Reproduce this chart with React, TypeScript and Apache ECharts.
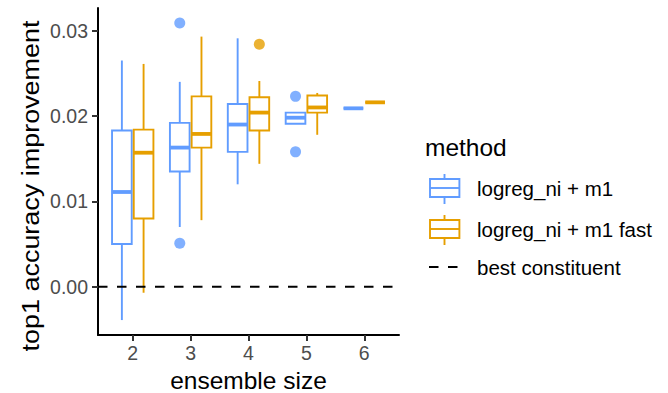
import React, { useEffect, useRef } from "react";
import * as echarts from "echarts";

// ---------- data ----------
const sizes = [2, 3, 4, 5, 6];
const sizeLabels = ["2", "3", "4", "5", "6"];
const methods = ["logreg_ni + m1", "logreg_ni + m1 fast"];
const baselineLabel = "best constituent";
const colors = ["#619CFF", "#E69F00"];

// [lower whisker, Q1, median, Q3, upper whisker] per ensemble size
const m1Stats = [
  [-0.0039, 0.005, 0.0111, 0.0183, 0.0265],
  [0.007, 0.0135, 0.0163, 0.0192, 0.024],
  [0.012, 0.0158, 0.019, 0.0214, 0.0291],
  [0.0191, 0.0191, 0.0198, 0.0204, 0.0204],
  [0.0209, 0.0209, 0.0209, 0.0209, 0.0209],
];
const m1FastStats = [
  [-0.0007, 0.008, 0.0157, 0.0184, 0.0261],
  [0.0078, 0.0163, 0.0179, 0.0223, 0.0293],
  [0.0144, 0.0183, 0.0204, 0.0222, 0.0241],
  [0.0178, 0.0204, 0.021, 0.0224, 0.0227],
  [0.0216, 0.0216, 0.0216, 0.0216, 0.0216],
];
// [ensemble size, value]
const m1Outliers = [
  [3, 0.0309],
  [3, 0.0051],
  [5, 0.0223],
  [5, 0.0158],
];
const m1FastOutliers = [[4, 0.0284]];
const baselineValue = 0;

const yTicks = [0, 0.01, 0.02, 0.03];
const yTickLabels = ["0.00", "0.01", "0.02", "0.03"];

// ---------- layout constants ----------
const FONT = "'Liberation Sans', Arial, Helvetica, sans-serif";
const X_MIN = 1.4;
const X_MAX = 6.6;
const Y_MIN = -0.00565;
const Y_MAX = 0.03265;
const DODGE = 0.1875;
const BOX_W = 0.34;
const LW = 1.9;

function boxSeries(stats: number[][], offset: number, color: string, name: string) {
  return {
    type: "custom",
    name,
    data: sizes.map((s, i) => [s + offset, ...stats[i]]),
    encode: { x: 0, y: [1, 2, 3, 4, 5] },
    z: 2,
    renderItem: (_params: any, api: any) => {
      const x = api.value(0);
      const low = api.coord([x, api.value(1)]);
      const q1 = api.coord([x, api.value(2)]);
      const med = api.coord([x, api.value(3)]);
      const q3 = api.coord([x, api.value(4)]);
      const high = api.coord([x, api.value(5)]);
      const halfW = api.size([BOX_W, 0])[0] / 2;
      const cx = low[0];
      const ls = { stroke: color, lineWidth: LW, fill: "none" };
      return {
        type: "group",
        children: [
          { type: "line", shape: { x1: cx, y1: high[1], x2: cx, y2: q3[1] }, style: ls },
          { type: "line", shape: { x1: cx, y1: q1[1], x2: cx, y2: low[1] }, style: ls },
          {
            type: "rect",
            shape: { x: cx - halfW, y: q3[1], width: 2 * halfW, height: q1[1] - q3[1] },
            style: { fill: "#ffffff", stroke: color, lineWidth: LW },
          },
          {
            type: "line",
            shape: { x1: cx - halfW, y1: med[1], x2: cx + halfW, y2: med[1] },
            style: { stroke: color, lineWidth: LW * 2 },
          },
        ],
      };
    },
  };
}

function legendKey(cy: number, color: string) {
  return [
    { type: "line", shape: { x1: 444.5, y1: cy - 14, x2: 444.5, y2: cy - 9 }, style: { stroke: color, lineWidth: LW } },
    { type: "line", shape: { x1: 444.5, y1: cy + 9, x2: 444.5, y2: cy + 16 }, style: { stroke: color, lineWidth: LW } },
    {
      type: "rect",
      shape: { x: 430, y: cy - 9, width: 29.4, height: 18 },
      style: { fill: "#ffffff", stroke: color, lineWidth: LW },
    },
    { type: "line", shape: { x1: 430, y1: cy, x2: 459.4, y2: cy }, style: { stroke: color, lineWidth: LW } },
  ];
}

export default function App() {
  const ref = useRef<HTMLDivElement>(null);

  useEffect(() => {
    if (!ref.current) return;
    const chart = echarts.init(ref.current, undefined, { renderer: "svg" });

    const yLabel = (v: number) => {
      const i = yTicks.findIndex((t) => Math.abs(t - v) < 1e-9);
      return i >= 0 ? yTickLabels[i] : "";
    };
    const xLabel = (v: number) => {
      const i = sizes.findIndex((t) => Math.abs(t - v) < 1e-9);
      return i >= 0 ? sizeLabels[i] : "";
    };

    const option: any = {
      animation: false,
      backgroundColor: "#ffffff",
      grid: {
        left: 98,
        right: 269,
        top: 8,
        bottom: 58,
        containLabel: false,
        outerBoundsMode: "none",
      },
      xAxis: {
        type: "value",
        min: X_MIN,
        max: X_MAX,
        splitLine: { show: false },
        axisLine: { show: true, onZero: false, lineStyle: { color: "#000000", width: 2 } },
        axisTick: { show: true, customValues: sizes, length: 6, lineStyle: { color: "#333333", width: 2 } },
        axisLabel: {
          customValues: sizes,
          formatter: xLabel,
          color: "#4D4D4D",
          fontSize: 19.5,
          fontFamily: FONT,
          margin: 8,
        },
        name: "ensemble size",
        nameLocation: "middle",
        nameGap: 34,
        nameTextStyle: { color: "#000000", fontSize: 24.5, fontFamily: FONT, lineHeight: 22 },
      },
      yAxis: {
        type: "value",
        min: Y_MIN,
        max: Y_MAX,
        splitLine: { show: false },
        axisLine: { show: true, onZero: false, lineStyle: { color: "#000000", width: 2 } },
        axisTick: { show: true, customValues: yTicks, length: 6, lineStyle: { color: "#333333", width: 2 } },
        axisLabel: {
          customValues: yTicks,
          formatter: yLabel,
          color: "#4D4D4D",
          fontSize: 19.5,
          fontFamily: FONT,
          margin: 10,
        },
      },
      series: [
        boxSeries(m1Stats, -DODGE, colors[0], methods[0]),
        boxSeries(m1FastStats, DODGE, colors[1], methods[1]),
        {
          type: "scatter",
          name: methods[0] + " outliers",
          data: m1Outliers.map(([s, v]) => [s - DODGE, v]),
          symbolSize: 11,
          itemStyle: { color: colors[0] },
          z: 3,
        },
        {
          type: "scatter",
          name: methods[1] + " outliers",
          data: m1FastOutliers.map(([s, v]) => [s + DODGE, v]),
          symbolSize: 11,
          itemStyle: { color: colors[1] },
          z: 3,
        },
        {
          type: "line",
          name: baselineLabel,
          data: [
            [X_MIN, baselineValue],
            [X_MAX, baselineValue],
          ],
          symbol: "none",
          lineStyle: { color: "#000000", width: 2, type: [9.5, 9.5] },
          z: 4,
        },
      ],
      graphic: [
        {
          type: "text",
          x: 30,
          y: 186,
          rotation: Math.PI / 2,
          scaleX: 1.1,
          style: {
            text: "top1 accuracy improvement",
            fontSize: 24.5,
            fontFamily: FONT,
            fill: "#000000",
            align: "center",
            verticalAlign: "middle",
          },
        },
        {
          type: "text",
          x: 425,
          y: 147,
          style: { text: "method", fontSize: 24.5, fontFamily: FONT, fill: "#000000", verticalAlign: "middle" },
        },
        ...legendKey(188, colors[0]),
        ...legendKey(229, colors[1]),
        {
          type: "line",
          shape: { x1: 429, y1: 267, x2: 459, y2: 267 },
          style: { stroke: "#000000", lineWidth: 2, lineDash: [9.5, 9.5] },
        },
        {
          type: "text",
          x: 477,
          y: 188,
          style: { text: methods[0], fontSize: 20.5, fontFamily: FONT, fill: "#000000", verticalAlign: "middle" },
        },
        {
          type: "text",
          x: 477,
          y: 229,
          style: { text: methods[1], fontSize: 20.5, fontFamily: FONT, fill: "#000000", verticalAlign: "middle" },
        },
        {
          type: "text",
          x: 477,
          y: 267,
          style: { text: baselineLabel, fontSize: 20.5, fontFamily: FONT, fill: "#000000", verticalAlign: "middle" },
        },
      ],
    };

    chart.setOption(option);
    return () => chart.dispose();
  }, []);

  return (
    <div
      ref={ref}
      style={{ position: "fixed", left: 0, top: 0, width: 668, height: 393, background: "#ffffff" }}
    />
  );
}
